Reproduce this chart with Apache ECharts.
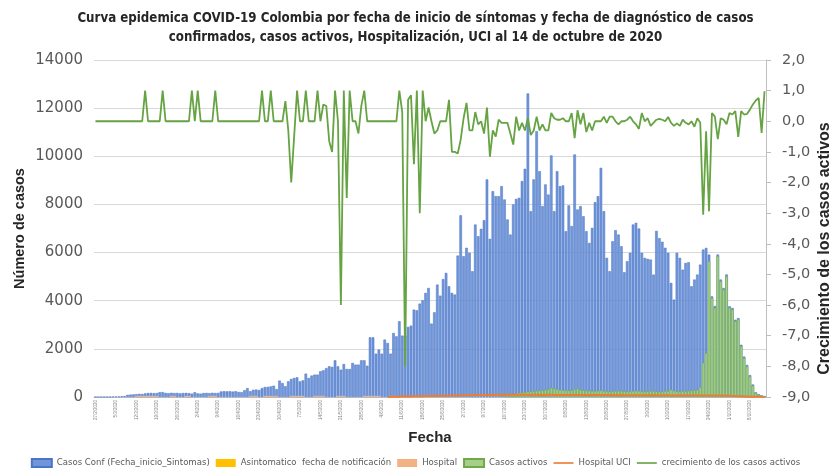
<!DOCTYPE html>
<html>
<head>
<meta charset="UTF-8">
<title>Curva epidemica COVID-19 Colombia</title>
<script src="https://cdn.jsdelivr.net/npm/echarts@6/dist/echarts.min.js"></script>
<style>
  html, body { margin: 0; padding: 0; background: #fff; }
  #chart { width: 831px; height: 473px; }
</style>
</head>
<body>
<div id="chart"></div>
<script>
  // fechas: 27/2/2020 .. 13/10/2020 (230 dias)
  var startDate = new Date(2020, 1, 27);
  var nDays = 230;
  var fechas = [];
  for (var d = 0; d < nDays; d++) {
    var t = new Date(startDate.getTime() + d * 86400000);
    fechas.push(t.getDate() + '/' + (t.getMonth() + 1) + '/' + t.getFullYear());
  }

  // Casos Conf (Fecha_inicio_Sintomas)
  var casosConf = [
    2, 3, 5, 8, 6, 10, 15, 20, 25, 35,
    40, 90, 100, 110, 120, 130, 125, 150, 165, 170,
    160, 165, 200, 205, 170, 160, 175, 165, 170, 150,
    165, 170, 160, 140, 200, 150, 140, 165, 170, 160,
    175, 165, 170, 230, 240, 235, 240, 225, 240, 210,
    200, 280, 370, 240, 300, 310, 290, 370, 415, 420,
    440, 470, 330, 680, 580, 450, 650, 750, 790, 820,
    650, 690, 970, 790, 890, 930, 930, 1070, 1110, 1200,
    1275, 1250, 1525, 1275, 1135, 1370, 1165, 1165, 1415, 1345,
    1345, 1525, 1525, 1300, 2480, 2480, 1800, 1970, 1800, 2385,
    2245, 1800, 2660, 2520, 3145, 2550, 2550, 2910, 2965, 3630,
    3600, 3880, 4020, 4325, 4530, 3050, 3520, 4670, 4210, 4900,
    5155, 4600, 4325, 4255, 5875, 7550, 5850, 6200, 5990, 5225,
    7165, 6680, 6985, 7345, 9040, 6570, 8550, 8345, 8345, 8760,
    8205, 7375, 6750, 8000, 8230, 8275, 8970, 9480, 12610, 7720,
    9040, 11045, 9380, 7930, 8830, 8410, 10035, 7720, 9380, 8760,
    8790, 6890, 7960, 7100, 10075, 7790, 7930, 7510, 6890, 6400,
    7025, 8095, 8345, 9520, 7720, 5780, 5225, 6470, 6930, 6750,
    6265, 5185, 5640, 5990, 7165, 7235, 7000, 5990, 5780, 5740,
    5710, 5085, 6900, 6600, 6450, 6200, 5990, 4740, 4045, 5990,
    5780, 5290, 5570, 5600, 4600, 4880, 5085, 5500, 6125, 6195,
    5915, 4180, 3780, 5920, 4880, 4530, 5090, 3770, 3700, 3210,
    3280, 2170, 1680, 1330, 910, 520, 200, 120, 70, 40
  ];

  // Asintomatico fecha de notificacion (no visible)
  var asintomatico = [];

  // Hospital, desde el dia 14
  var hospitalStart = 14;
  var hospital = [
    50, 50, 50, 50, 50, 50, 50, 50, 0, 0,
    0, 0, 50, 50, 0, 0, 0, 50, 50, 0,
    0, 0, 0, 0, 0, 50, 50, 50, 0, 0,
    0, 0, 0, 0, 0, 0, 0, 0, 0, 50,
    50, 50, 0, 0, 50, 50, 50, 50, 50, 0,
    0, 0, 0, 50, 50, 50, 50, 50, 0, 0,
    0, 50, 50, 50, 50, 0, 0, 0, 0, 50,
    50, 50, 0, 0, 0, 0, 0, 0, 50, 50,
    50, 50, 50, 50, 0, 0, 0, 50, 50, 50
  ];

  // Casos activos, desde el dia 140
  var activosStart = 140;
  var casosActivos = [
    60, 90, 110, 130, 150, 170, 180, 200, 220, 230,
    250, 260, 270, 280, 300, 320, 380, 350, 330, 300,
    290, 280, 270, 280, 320, 350, 300, 280, 270, 260,
    250, 250, 260, 270, 250, 240, 230, 240, 250, 260,
    250, 240, 230, 240, 250, 260, 250, 240, 230, 240,
    250, 240, 230, 220, 230, 240, 250, 300, 260, 240,
    230, 240, 250, 260, 270, 280, 300, 400, 1414, 1829,
    5639, 4115, 3700, 5847, 4807, 4460, 5015, 3700, 3630, 3145,
    3215, 2106, 1620, 1274, 858, 470, 166, 97, 55, 30
  ];

  // Hospital UCI, desde el dia 100
  var uciStart = 100;
  var hospitalUci = [
    5, 8, 10, 12, 15, 18, 20, 22, 25, 28,
    30, 32, 35, 38, 40, 42, 45, 48, 50, 52,
    55, 58, 60, 62, 65, 68, 70, 72, 75, 78,
    80, 82, 80, 85, 88, 90, 88, 92, 95, 90,
    92, 95, 98, 95, 92, 90, 92, 95, 90, 88,
    90, 92, 88, 85, 88, 90, 92, 88, 85, 82,
    85, 88, 85, 82, 80, 82, 85, 80, 78, 80,
    82, 80, 78, 75, 78, 80, 78, 75, 72, 75,
    78, 75, 72, 70, 72, 75, 72, 70, 68, 70,
    72, 70, 68, 65, 68, 70, 68, 65, 62, 65,
    68, 65, 62, 60, 62, 65, 62, 60, 58, 60,
    62, 60, 58, 55, 58, 60, 55, 50, 45, 40,
    35, 30, 25, 20, 15, 12, 10, 8, 6, 5
  ];

  // crecimiento de los casos activos (eje derecho)
  var crecimiento = [
    0, 0, 0, 0, 0, 0, 0, 0, 0, 0,
    0, 0, 0, 0, 0, 0, 0, 1.0, 0, 0,
    0, 0, 0, 1.0, 0, 0, 0, 0, 0, 0,
    0, 0, 0, 1.0, 0, 1.0, 0, 0, 0, 0,
    0, 1.0, 0, 0, 0, 0, 0, 0, 0, 0,
    0, 0, 0, 0, 0, 0, 0, 1.0, 0, 0,
    1.0, 0, 0, 0, 0, 0.66, -0.3, -2.0, -0.5, 1.0,
    0, 0, 1.0, 0, 0, 0, 1.0, 0, 0.55, 0.5,
    -0.65, -1.0, 1.0, 0, -6.0, 1.0, -2.5, 1.0, 0, 0,
    -0.4, 0.5, 1.0, 0, 0, 0, 0, 0, 0, 0,
    0, 0, 0, 0, 1.0, 0.3, -8.0, 0.7, 0.85, -1.4,
    1.0, -3.0, 1.0, 0, 0.45, 0, -0.4, -0.3, 0, 0,
    0, 0.7, -1.0, -1.0, -1.05, -0.6, 0.1, 0.6, -0.3, -0.3,
    0.3, -0.1, 0, -0.4, 0.45, -1.16, -0.3, -0.5, 0.05, -0.05,
    -0.05, -0.05, -0.4, -0.76, 0.15, -0.3, -0.05, -0.3, 0.1, -0.45,
    -0.3, 0.15, -0.3, -0.1, -0.3, -0.3, 0.27, 0.1, 0.05, 0.05,
    0.1, 0, 0, 0.27, -0.55, 0.36, -0.1, 0.27, -0.35, -0.05,
    -0.3, 0, 0, 0, 0.15, -0.05, 0.15, 0.15, 0, -0.1,
    0, 0, 0.05, 0.15, 0, -0.1, -0.25, 0.27, 0, 0.1,
    -0.15, -0.05, 0.05, 0.08, 0.05, 0, 0.14, -0.05, -0.15, -0.07,
    -0.15, 0.05, -0.05, -0.1, 0, -0.18, 0.1, -0.05, -3.05, -0.33,
    -2.94, 0.27, 0.15, -0.58, 0.1, 0.05, -0.1, 0.27, 0.22, 0.33,
    -0.51, 0.33, 0.22, 0.24, 0.38, 0.55, 0.68, 0.76, -0.38, 0.98
  ];

  var leftTicks = { min: 0, max: 14000, interval: 2000 };
  var rightTicks = { min: -9, max: 2, interval: 1 };

  // rellena con null hasta el dia de inicio
  function desde(start, arr) {
    var out = [];
    for (var k = 0; k < nDays; k++) {
      var j = k - start;
      out.push(j >= 0 && j < arr.length ? arr[j] : null);
    }
    return out;
  }

  var narrow = "'Liberation Sans Narrow', 'DejaVu Sans Condensed', 'Liberation Sans', sans-serif";
  var grey = '#595959';
  // icono de linea fina para la leyenda
  var lineIcon = 'path://M0,0 M22,8 M0,3.1 H22 V4.9 H0 Z';

  var chart = echarts.init(document.getElementById('chart'));
  var option = {
    backgroundColor: '#ffffff',
    animation: false,
    title: {
      text: 'Curva epidemica COVID-19 Colombia por fecha de inicio de síntomas y fecha de diagnóstico de casos\nconfirmados, casos activos, Hospitalización, UCI al 14 de octubre de 2020',
      left: 'center',
      top: 4,
      textStyle: {
        fontFamily: narrow,
        fontWeight: 'bold',
        fontSize: 13.2,
        lineHeight: 19,
        color: '#262626'
      }
    },
    legend: {
      bottom: 0,
      left: 'center',
      width: 825,
      itemWidth: 20,
      itemHeight: 8,
      itemGap: 6,
      textStyle: { fontFamily: narrow, fontSize: 9.5, color: grey },
      data: [
        { name: 'Casos Conf (Fecha_inicio_Sintomas)', icon: 'rect' },
        { name: 'Asintomatico  fecha de notificación', icon: 'rect' },
        { name: 'Hospital', icon: 'rect' },
        { name: 'Casos activos', icon: 'rect' },
        { name: 'Hospital UCI', icon: lineIcon },
        { name: 'crecimiento de los casos activos', icon: lineIcon }
      ]
    },
    grid: { left: 94, right: 65, top: 60, bottom: 76, outerBoundsMode: 'none', containLabel: false },
    xAxis: {
      type: 'category',
      data: fechas,
      boundaryGap: true,
      name: 'Fecha',
      nameLocation: 'middle',
      nameGap: 33,
      nameMoveOverlap: false,
      nameTextStyle: { fontFamily: 'Liberation Sans', fontWeight: 'bold', fontSize: 15, color: '#262626' },
      axisLine: { lineStyle: { color: '#BFBFBF' } },
      axisTick: { show: false },
      axisLabel: { interval: 6, rotate: 90, fontSize: 4.5, color: '#7f7f7f', margin: 3 }
    },
    yAxis: [{
      type: 'value',
      min: leftTicks.min,
      max: leftTicks.max,
      interval: leftTicks.interval,
      name: 'Número de casos',
      nameLocation: 'middle',
      nameGap: 67,
      nameMoveOverlap: false,
      nameTextStyle: { fontFamily: 'Liberation Sans', fontWeight: 'bold', fontSize: 14.5, color: '#262626' },
      axisLine: { show: false },
      axisTick: { show: false },
      axisLabel: {
        fontFamily: 'DejaVu Sans', fontSize: 15, color: grey, margin: 11,
        formatter: function (v) { return String(v); }
      },
      splitLine: { lineStyle: { color: '#D9D9D9' } }
    }, {
      type: 'value',
      position: 'right',
      min: rightTicks.min,
      max: rightTicks.max,
      interval: rightTicks.interval,
      name: 'Crecimiento de los casos activos',
      nameLocation: 'middle',
      nameGap: 51,
      nameMoveOverlap: false,
      nameTextStyle: { fontFamily: 'Liberation Sans', fontWeight: 'bold', fontSize: 16, color: '#262626', padding: [0, 40, 0, 0] },
      axisLine: { show: true, lineStyle: { color: '#BFBFBF' } },
      axisTick: { show: true, length: 5, lineStyle: { color: '#BFBFBF' } },
      axisLabel: {
        fontFamily: 'DejaVu Sans', fontSize: 14.5, color: grey, margin: 16,
        formatter: function (v) { return v.toFixed(1).replace('.', ','); }
      },
      splitLine: { show: false }
    }],
    series: [{
      name: 'Casos Conf (Fecha_inicio_Sintomas)',
      type: 'bar',
      data: casosConf,
      barGap: '-100%',
      barCategoryGap: '12%',
      itemStyle: { color: '#7096D9', borderColor: '#4A74C6', borderWidth: 0.5 }
    }, {
      name: 'Asintomatico  fecha de notificación',
      type: 'bar',
      data: asintomatico,
      barGap: '-100%',
      itemStyle: { color: '#FFC000' }
    }, {
      name: 'Hospital',
      type: 'bar',
      data: desde(hospitalStart, hospital),
      barGap: '-100%',
      itemStyle: { color: '#F4B183' }
    }, {
      name: 'Casos activos',
      type: 'bar',
      data: desde(activosStart, casosActivos),
      barGap: '-100%',
      itemStyle: { color: '#A6D08A', borderColor: '#6FAA47', borderWidth: 0.5 }
    }, {
      name: 'Hospital UCI',
      type: 'line',
      data: desde(uciStart, hospitalUci),
      symbol: 'none',
      lineStyle: { color: '#ED7D31', width: 2 },
      itemStyle: { color: '#ED7D31' }
    }, {
      name: 'crecimiento de los casos activos',
      type: 'line',
      yAxisIndex: 1,
      data: crecimiento,
      symbol: 'none',
      lineStyle: { color: '#66A343', width: 1.8 },
      itemStyle: { color: '#66A343' },
      z: 5
    }]
  };
  chart.setOption(option);
</script>
</body>
</html>
